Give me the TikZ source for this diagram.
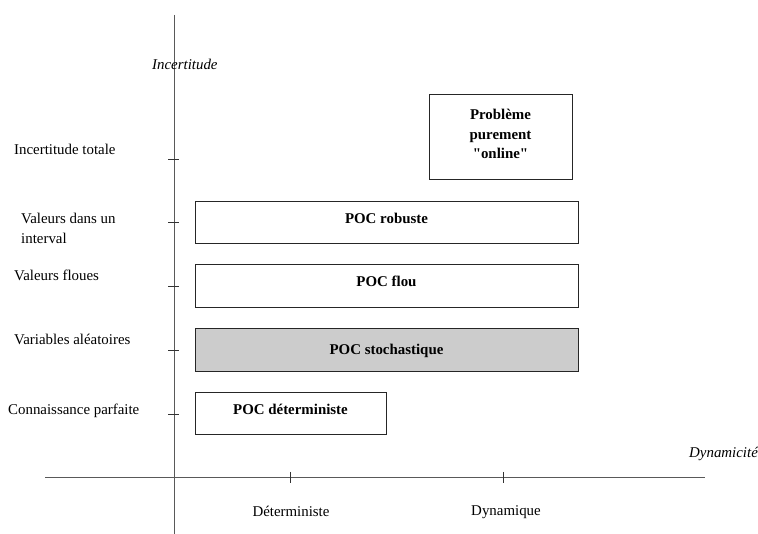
\documentclass[tikz,border=0pt]{standalone}
\usepackage{fontspec}
\setmainfont[Ligatures=TeXOff]{Liberation Serif}
\begin{document}
\begin{tikzpicture}[x=1pt,y=-1pt,
  txt/.style={font=\fontsize{14.9}{19.5}\selectfont, inner sep=0pt},
  lbl/.style={txt, anchor=base west},
  clbl/.style={txt, anchor=base},
  axisline/.style={draw=black!65, line width=1pt},
  tickline/.style={draw=black!80, line width=0.9pt},
  pocbox/.style={draw=black!85, line width=1pt, txt, font=\fontsize{14.9}{19.5}\selectfont\bfseries,
    text height=0.65em, text depth=0.55em},
  grayfill/.style={fill=black!20}]
\useasboundingbox (0,0) rectangle (758,534);

% axes
\coordinate (vtop) at (174,15);
\coordinate (vbot) at (174,534);
\coordinate (hleft) at (45,478);
\coordinate (hright) at (705,478);
\draw[axisline] (vtop) -- (vbot);
\draw[axisline] (hleft) -- (hright);

% ticks on vertical axis
\foreach \yy/\nm in {159/a,222/b,286/c,350/d,414/e}{
  \coordinate (vt\nm l) at (168,\yy);
  \coordinate (vt\nm r) at (179,\yy);
  \draw[tickline] (vt\nm l) -- (vt\nm r);
}
% ticks on horizontal axis
\foreach \xx/\nm in {290/a,503/b}{
  \coordinate (ht\nm t) at (\xx,472);
  \coordinate (ht\nm b) at (\xx,483);
  \draw[tickline] (ht\nm t) -- (ht\nm b);
}

% axis titles
\node[lbl, font=\fontsize{14.9}{19.5}\selectfont\itshape] (incert) at (152,70) {Incertitude};
\node[lbl, font=\fontsize{14.9}{19.5}\selectfont\itshape] (dynam) at (689,458) {Dynamicité};

% left labels
\node[lbl] (ltot) at (14,155) {Incertitude totale};
\node[lbl] (lint1) at (21,224) {Valeurs dans un};
\node[lbl] (lint2) at (21,244) {interval};
\node[lbl] (lflou) at (14,281) {Valeurs floues};
\node[lbl] (lalea) at (14,345) {Variables aléatoires};
\node[lbl] (lparf) at (8,415) {Connaissance parfaite};

% bottom labels
\node[clbl] (bdet) at (291,516) {Déterministe};
\node[clbl] (bdyn) at (506,515) {Dynamique};

% boxes
\draw[draw=black!85, line width=1pt] (429,95) rectangle (572,180);
\node[txt, font=\fontsize{14.9}{19.5}\selectfont\bfseries, align=center] (online) at (500.5,134) {Problème\\purement\\"online"};
\node[pocbox, minimum width=383pt, minimum height=42pt] (robuste) at (386.5,223) {POC robuste};
\node[pocbox, minimum width=383pt, minimum height=43pt] (flou) at (386.5,286.5) {POC flou};
\node[pocbox, grayfill, minimum width=383pt, minimum height=43pt, text height=0.8em, text depth=0em] (stoch) at (386.5,350.5) {POC stochastique};
\node[pocbox, minimum width=191pt, minimum height=42pt] (determ) at (290.5,414) {POC déterministe};
\end{tikzpicture}
\end{document}
